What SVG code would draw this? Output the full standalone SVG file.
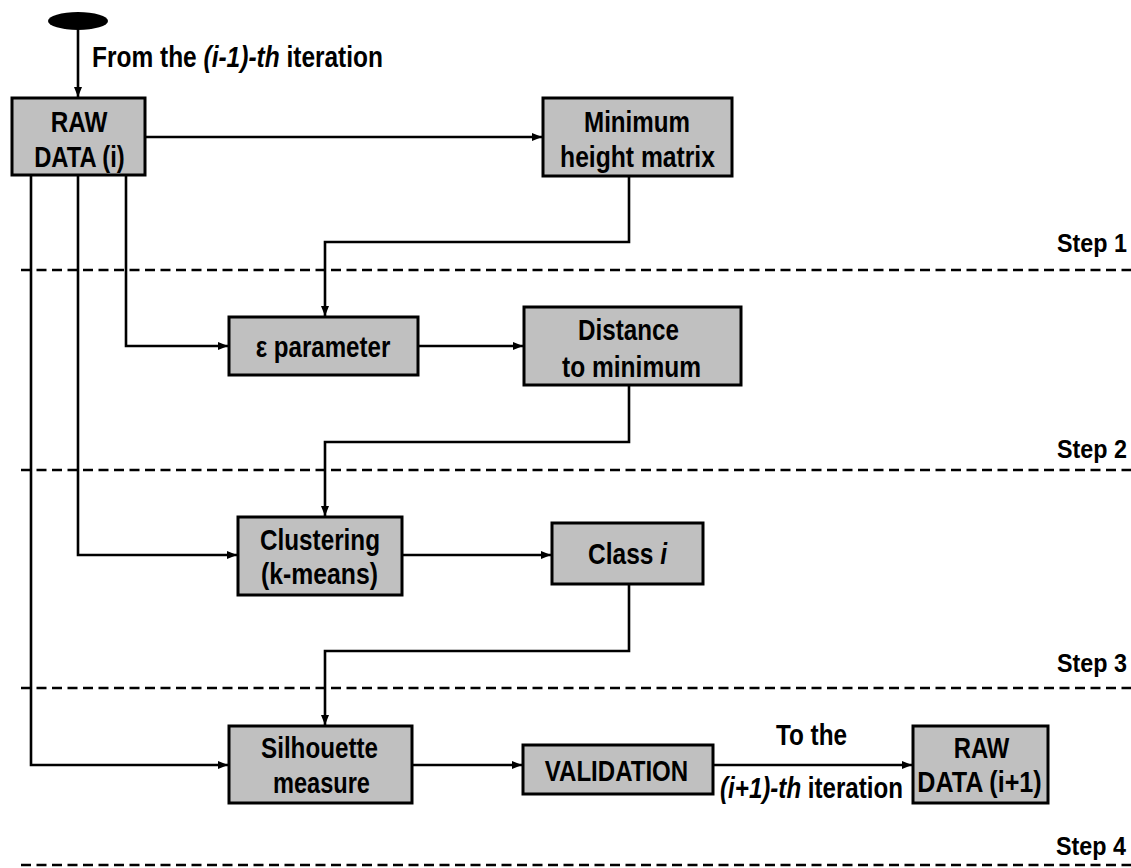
<svg xmlns="http://www.w3.org/2000/svg" width="1131" height="868" viewBox="0 0 1131 868">
<defs>
<marker id="arr" markerUnits="userSpaceOnUse" markerWidth="12" markerHeight="10" refX="10" refY="5" orient="auto">
<path d="M0,1 L10,5 L0,9 Z" fill="#000"/>
</marker>
<style>
.box{fill:#c0c0c0;stroke:#000;stroke-width:3}
.t{font-family:"Liberation Sans",Arial,sans-serif;font-weight:bold;font-size:29px;fill:#000;text-anchor:middle}
.s{font-family:"Liberation Sans",Arial,sans-serif;font-weight:bold;font-size:26px;fill:#000}
.c{fill:none;stroke:#000;stroke-width:2.6;marker-end:url(#arr)}
.d{fill:none;stroke:#000;stroke-width:2.6;stroke-dasharray:10,5.5}
</style>
</defs>
<rect width="1131" height="868" fill="#fff"/>

<g id="steps">
<line class="d" x1="21" y1="270" x2="1131" y2="270"/>
<line class="d" x1="21" y1="470" x2="1131" y2="470"/>
<line class="d" x1="21" y1="688" x2="1131" y2="688"/>
<line class="d" x1="21" y1="865" x2="1131" y2="865"/>
<text class="s" transform="translate(1057,252) scale(0.897,1)">Step 1</text>
<text class="s" transform="translate(1057,458) scale(0.897,1)">Step 2</text>
<text class="s" transform="translate(1057,672) scale(0.897,1)">Step 3</text>
<text class="s" transform="translate(1056,855) scale(0.897,1)">Step 4</text>
</g>

<g id="connectors">
<line class="c" x1="78" y1="30" x2="78" y2="97"/>
<line class="c" x1="145" y1="137" x2="542" y2="137"/>
<polyline class="c" points="629,177 629,242 325,242 325,316"/>
<polyline class="c" points="126,175 126,346 228,346"/>
<line class="c" x1="418" y1="346" x2="523" y2="346"/>
<polyline class="c" points="629,386 629,442 325,442 325,516"/>
<polyline class="c" points="78,175 78,555 237,555"/>
<line class="c" x1="402" y1="555" x2="551" y2="555"/>
<polyline class="c" points="629,584 629,651 325,651 325,725"/>
<polyline class="c" points="31,175 31,765 228,765"/>
<line class="c" x1="412" y1="765" x2="522" y2="765"/>
<line class="c" x1="713" y1="765" x2="912" y2="765"/>
<text class="t" transform="translate(811.5,745) scale(0.839,1)">To the</text>
<text class="t" transform="translate(811.5,798) scale(0.832,1)"><tspan font-style="italic">(i+1)-th</tspan> iteration</text>
</g>

<g id="start">
<ellipse cx="78" cy="21" rx="30" ry="9" fill="#000"/>
<text class="t" transform="translate(237.5,67) scale(0.844,1)">From the <tspan font-style="italic">(i-1)-th</tspan> iteration</text>
</g>

<g id="raw-i">
<rect class="box" x="12" y="98" width="133" height="77"/>
<text class="t" transform="translate(79,132) scale(0.837,1)">RAW</text>
<text class="t" transform="translate(79.5,167) scale(0.819,1)">DATA (i)</text>
</g>

<g id="min-height">
<rect class="box" x="543" y="98" width="189" height="78"/>
<text class="t" transform="translate(637,132) scale(0.833,1)">Minimum</text>
<text class="t" transform="translate(637.5,167) scale(0.851,1)">height matrix</text>
</g>

<g id="epsilon">
<rect class="box" x="229" y="317" width="189" height="58"/>
<text class="t" transform="translate(323,357) scale(0.831,1)">ε parameter</text>
</g>

<g id="distance">
<rect class="box" x="524" y="307" width="217" height="78"/>
<text class="t" transform="translate(628.5,340) scale(0.835,1)">Distance</text>
<text class="t" transform="translate(631.5,377) scale(0.846,1)">to minimum</text>
</g>

<g id="clustering">
<rect class="box" x="238" y="517" width="164" height="78"/>
<text class="t" transform="translate(320,550) scale(0.837,1)">Clustering</text>
<text class="t" transform="translate(319.5,584) scale(0.854,1)">(k-means)</text>
</g>

<g id="class-i">
<rect class="box" x="552" y="523" width="151" height="61"/>
<text class="t" transform="translate(627.5,564) scale(0.845,1)">Class <tspan font-style="italic">i</tspan></text>
</g>

<g id="silhouette">
<rect class="box" x="229" y="726" width="183" height="77"/>
<text class="t" transform="translate(319.5,758) scale(0.835,1)">Silhouette</text>
<text class="t" transform="translate(321.5,793) scale(0.813,1)">measure</text>
</g>

<g id="validation">
<rect class="box" x="523" y="745" width="190" height="49"/>
<text class="t" transform="translate(616.5,781) scale(0.83,1)">VALIDATION</text>
</g>

<g id="raw-i1">
<rect class="box" x="913" y="726" width="135" height="77"/>
<text class="t" transform="translate(981.5,758) scale(0.823,1)">RAW</text>
<text class="t" transform="translate(979.5,792) scale(0.866,1)">DATA (i+1)</text>
</g>
</svg>
